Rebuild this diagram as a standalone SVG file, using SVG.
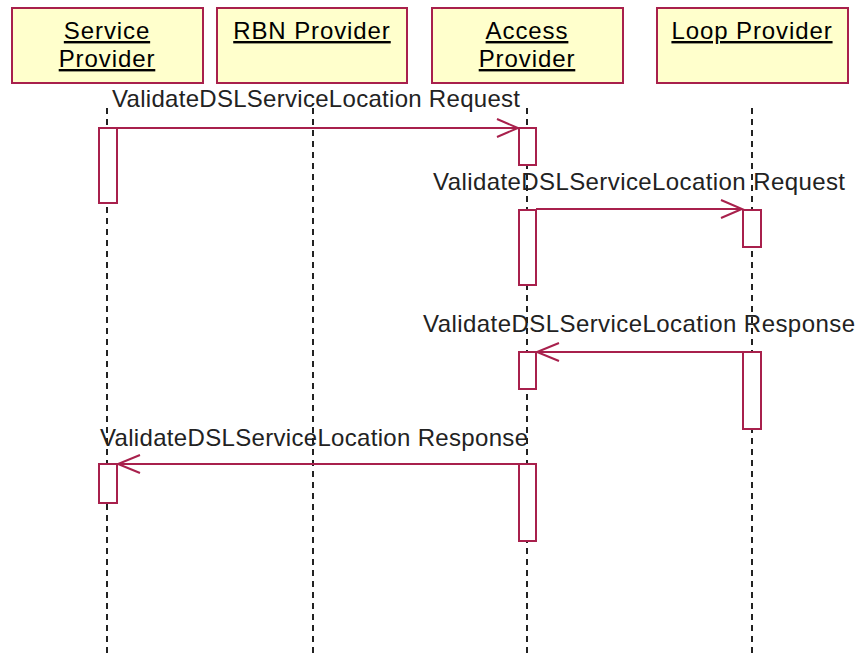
<svg xmlns="http://www.w3.org/2000/svg" width="859" height="656" viewBox="0 0 859 656">
<style>
.box{fill:#ffffcc;stroke:#a8204c;stroke-width:2}
.hd{font-family:"Liberation Sans",Arial,sans-serif;font-size:24px;fill:#000;text-anchor:middle;text-decoration:underline;letter-spacing:0.9px}
.lbl{font-family:"Liberation Sans",Arial,sans-serif;font-size:24px;fill:#222}
.life{stroke:#222;stroke-width:2;stroke-dasharray:6 5;fill:none}
.act{fill:#fff;stroke:#a8204c;stroke-width:2}
.msg{stroke:#a8204c;stroke-width:2;fill:none}
</style>
<rect width="859" height="656" fill="#fff"/>
<g id="labels">
<text class="lbl" x="112" y="107" textLength="408" lengthAdjust="spacing">ValidateDSLServiceLocation Request</text>
<text class="lbl" x="433" y="190" textLength="412" lengthAdjust="spacing">ValidateDSLServiceLocation Request</text>
<text class="lbl" x="423" y="332" textLength="432" lengthAdjust="spacing">ValidateDSLServiceLocation Response</text>
<text class="lbl" x="100" y="446" textLength="428" lengthAdjust="spacing">ValidateDSLServiceLocation Response</text>
</g>
<g id="lifelines">
<line class="life" x1="107" y1="108" x2="107" y2="656"/>
<line class="life" x1="313" y1="108" x2="313" y2="656"/>
<line class="life" x1="527" y1="108" x2="527" y2="656"/>
<line class="life" x1="752" y1="108" x2="752" y2="656"/>
</g>
<g id="service-provider">
<rect class="box" x="12" y="8" width="191" height="75"/>
<text class="hd" x="107" y="39">Service </text>
<text class="hd" x="107" y="67">Provider</text>
</g>
<g id="rbn-provider">
<rect class="box" x="217" y="8" width="190" height="75"/>
<text class="hd" x="312" y="39">RBN Provider</text>
</g>
<g id="access-provider">
<rect class="box" x="432" y="8" width="191" height="75"/>
<text class="hd" x="527" y="39">Access </text>
<text class="hd" x="527" y="67">Provider</text>
</g>
<g id="loop-provider">
<rect class="box" x="657" y="8" width="191" height="75"/>
<text class="hd" x="752" y="39">Loop Provider</text>
</g>
<g id="activations">
<rect class="act" x="99" y="128" width="18" height="75"/>
<rect class="act" x="519" y="128" width="17" height="37"/>
<rect class="act" x="519" y="210" width="17" height="75"/>
<rect class="act" x="743" y="210" width="18" height="37"/>
<rect class="act" x="743" y="352" width="18" height="77"/>
<rect class="act" x="519" y="352" width="17" height="37"/>
<rect class="act" x="99" y="464" width="18" height="39"/>
<rect class="act" x="519" y="464" width="17" height="77"/>
</g>
<g id="connectors">
<line class="msg" x1="117" y1="128" x2="518" y2="128"/>
<path class="msg" d="M497,119 L518,128 L497,137"/>
<line class="msg" x1="536" y1="209" x2="742" y2="209"/>
<path class="msg" d="M721,200 L742,209 L721,218"/>
<line class="msg" x1="743" y1="352" x2="537" y2="352"/>
<path class="msg" d="M559,343 L537,352 L559,361"/>
<line class="msg" x1="519" y1="464" x2="118" y2="464"/>
<path class="msg" d="M140,455 L118,464 L140,473"/>
</g>
</svg>
